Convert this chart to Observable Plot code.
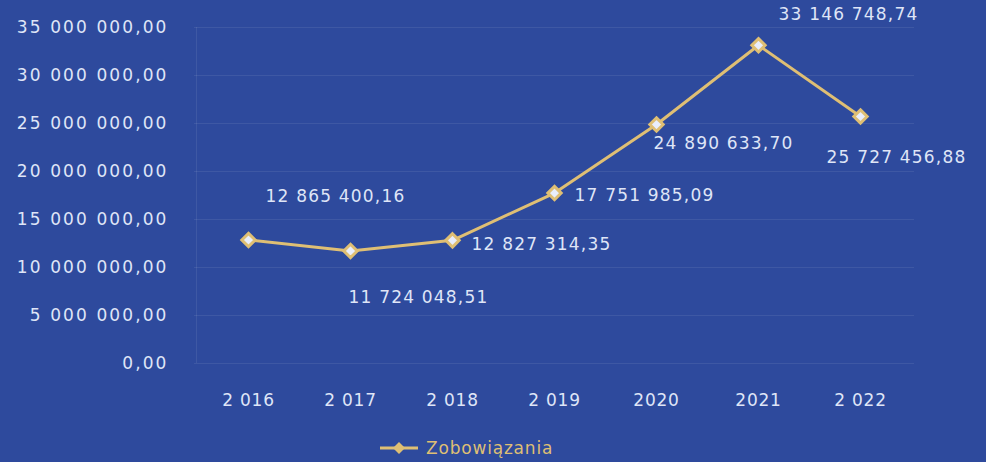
<!DOCTYPE html>
<html>
<head>
<meta charset="utf-8">
<script src="https://cdn.jsdelivr.net/npm/d3@7"></script>
<script src="https://cdn.jsdelivr.net/npm/@observablehq/plot@0.6"></script>
<style>
  html, body { margin: 0; padding: 0; background: #2e4a9d; width: 986px; height: 462px; overflow: hidden; }
  #chart svg { display: block; }
  #chart g[aria-label="y-axis tick label"] { letter-spacing: 2.1px; }
  #chart g[aria-label="x-axis tick label"] { letter-spacing: 0.8px; }
  #chart g[aria-label="text"] { letter-spacing: 1.2px; }
  #legend { position: relative; height: 37px; font-family: "DejaVu Sans", sans-serif; }
  #legend .item { position: absolute; left: 378px; top: 13px; display: flex; align-items: center; color: #dfbf74; font-size: 17px; letter-spacing: 0.8px; }
</style>
</head>
<body>
<div id="chart"></div>
<div id="legend"><div class="item"><svg width="42" height="16" style="margin-right:6px"><line x1="2" y1="8" x2="40" y2="8" stroke="#dfbf74" stroke-width="3"/><path d="M21,2 L27,8 L21,14 L15,8 Z" fill="#dfbf74"/></svg>Zobowiązania</div></div>
<script>
const years = ["2 016", "2 017", "2 018", "2 019", "2020", "2021", "2 022"];
const values = [12865400.16, 11724048.51, 12827314.35, 17751985.09, 24890633.70, 33146748.74, 25727456.88];
const yTicks = [0, 5000000, 10000000, 15000000, 20000000, 25000000, 30000000, 35000000];
const seriesName = "Zobowiązania";

// label placement (style, not data)
const labelDx = [17, -2, 19, 20, -3, 20, -34];
const labelDy = [-43, 47, 4, 2, 19, -31, 41];

const loc = d3.formatLocale({decimal: ",", thousands: " ", grouping: [3], currency: ["", ""]});
const fmt = loc.format(",.2f");

const data = years.map((y, i) => ({year: y, value: values[i], i}));

const gold = "#dfbf74";
const textColor = "#dfe5f7";

const marks = [
  Plot.ruleY(yTicks, {stroke: "#ffffff", strokeOpacity: 0.08}),
  Plot.ruleX([years[0]], {stroke: "#ffffff", strokeOpacity: 0.08, dx: -52}),
  Plot.axisY({ticks: yTicks, tickSize: 0, tickPadding: 26, tickFormat: fmt, fill: textColor, fontSize: 17}),
  Plot.axisX({tickSize: 0, tickPadding: 30, fill: textColor, fontSize: 17}),
  Plot.line(data, {x: "year", y: "value", stroke: gold, strokeWidth: 3}),
  Plot.dot(data, {x: "year", y: "value", symbol: d3.symbolDiamond2, r: 6, fill: "#e9eefc", stroke: gold, strokeWidth: 3})
];
data.forEach((d, i) => {
  marks.push(Plot.text([d], {x: "year", y: "value", text: dd => fmt(dd.value), textAnchor: "start", dx: labelDx[i], dy: labelDy[i], fill: textColor, fontSize: 17}));
});

const chart = Plot.plot({
  width: 986,
  height: 425,
  marginLeft: 194,
  marginRight: 72,
  marginTop: 27,
  marginBottom: 62,
  style: {background: "transparent", fontFamily: "'DejaVu Sans', sans-serif", fontSize: "17px"},
  x: {type: "point", domain: years, padding: 0.5, label: null},
  y: {domain: [0, 35000000], label: null},
  marks
});
document.getElementById("chart").append(chart);
</script>
</body>
</html>
